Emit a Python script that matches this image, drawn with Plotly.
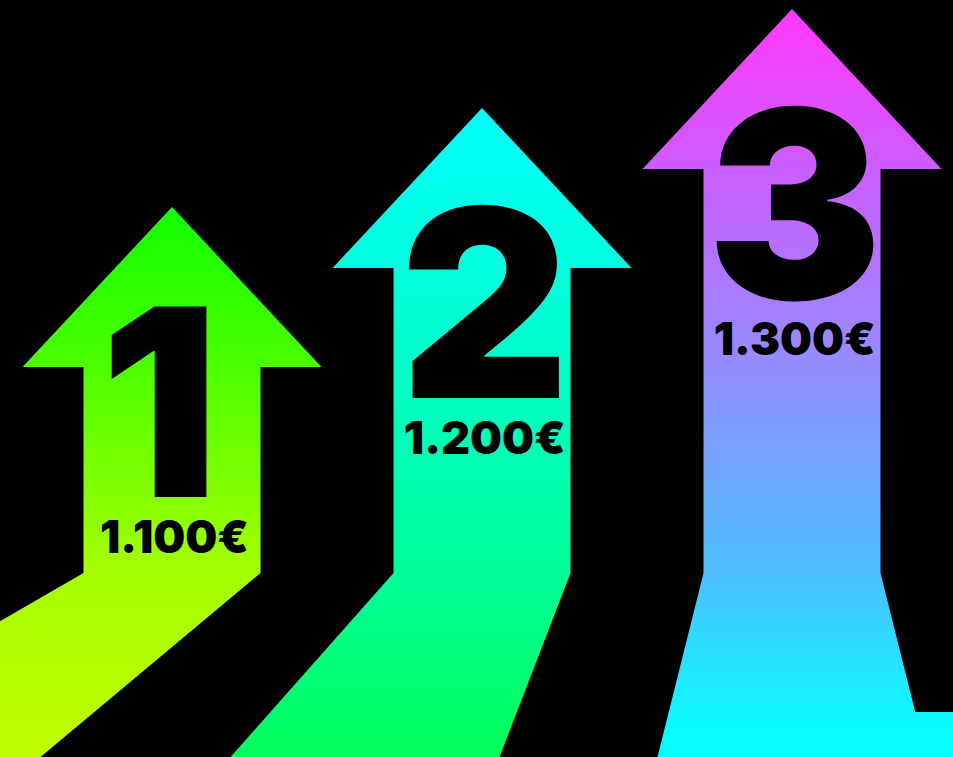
import plotly.graph_objects as go

# ---------------- data ----------------
categories = ["1", "2", "3"]
values = [1100, 1200, 1300]
value_labels = ["1.100€", "1.200€", "1.300€"]

# ---------------- layout / style constants (canvas pixels) ----------------
W, H = 953, 757
PX_PER_EUR = 0.99          # vertical scale: pixels per euro
TIP0_PX = 207              # pixel row of the first arrow tip


def px2y(py):
    return values[0] - (py - TIP0_PX) / PX_PER_EUR


Y_MIN = px2y(H)
Y_MAX = px2y(0)
CENTER0, SPACING = 172, 310
HEAD_HALF, SHAFT_HALF = 149.5, 88.5
HEAD_DEPTH = 160 / PX_PER_EUR
SHAFT_BASE = px2y(573)
BOTTOM = px2y(H)
TAIL_LEFT = [-318, -163, -46]     # x shift of tail bottom-left corner
TAIL_RIGHT = [-220, -71, 46]      # x shift of tail bottom-right corner
TAIL_STEP = [None, None, 712]     # pixel row of a step that runs off to the right
TEXT_OFFSET = 359 / PX_PER_EUR    # tip -> bottom of the text block
NUM_SIZE, LABEL_SIZE, LINE_BASE = 262, 45, 43
NUM_PAD = [150, 0, 0]             # trailing pad (px font) nudging the digit left

colorscales = [
    [[0, "#c0ff00"], [0.335, "#a6ff00"], [0.709, "#4cff00"], [1, "#12ff00"]],
    [[0, "#00ff5a"], [0.284, "#00ff99"], [0.752, "#00ffde"], [1, "#00fffa"]],
    [[0, "#00ffff"], [0.06, "#12f5ff"], [0.246, "#4cbfff"], [0.55, "#9b88ff"],
     [0.79, "#cc5cff"], [1, "#ff38ff"]],
]

fig = go.Figure()

for i, (cat, val) in enumerate(zip(categories, values)):
    cx = CENTER0 + SPACING * i
    L, R = cx - SHAFT_HALF, cx + SHAFT_HALF
    head_y = val - HEAD_DEPTH
    xs = [cx, cx + HEAD_HALF, R, R]
    ys = [val, head_y, head_y, SHAFT_BASE]
    if TAIL_STEP[i] is not None:
        step_y = px2y(TAIL_STEP[i])
        frac = (TAIL_STEP[i] - 573) / (H - 573)
        xs += [R + TAIL_RIGHT[i] * frac, W + 40, W + 40]
        ys += [step_y, step_y, BOTTOM]
    else:
        xs += [R + TAIL_RIGHT[i]]
        ys += [BOTTOM]
    xs += [L + TAIL_LEFT[i], L, L, cx - HEAD_HALF, cx]
    ys += [BOTTOM, SHAFT_BASE, head_y, head_y, val]
    fig.add_trace(go.Scatter(
        x=xs, y=ys, mode="lines", fill="toself",
        line=dict(width=0, color="rgba(0,0,0,0)"),
        fillgradient=dict(type="vertical", colorscale=colorscales[i],
                          start=BOTTOM, stop=val),
        hoverinfo="skip", showlegend=False,
    ))
    pad = (f"<span style='font-size:{NUM_PAD[i]}px'>&nbsp;</span>"
           if NUM_PAD[i] else "")
    text = (f"<span style='font-size:{NUM_SIZE}px'>{cat}</span>{pad}<br>"
            f"<span style='font-size:{LABEL_SIZE}px'>{value_labels[i]}</span>")
    fig.add_annotation(
        x=cx + 2, y=val - TEXT_OFFSET, text=text, showarrow=False,
        xanchor="center", yanchor="bottom", align="center",
        font=dict(family="Inter", size=LINE_BASE, color="black", weight=900),
    )

fig.update_layout(
    width=W, height=H, margin=dict(l=0, r=0, t=0, b=0),
    paper_bgcolor="black", plot_bgcolor="black",
    xaxis=dict(range=[0, W], visible=False, fixedrange=True),
    yaxis=dict(range=[Y_MIN, Y_MAX], visible=False, fixedrange=True),
)

fig.write_html("out.html", config={"displayModeBar": False},
               post_script="document.body.style.margin='0';"
                           "document.body.style.background='black';")
